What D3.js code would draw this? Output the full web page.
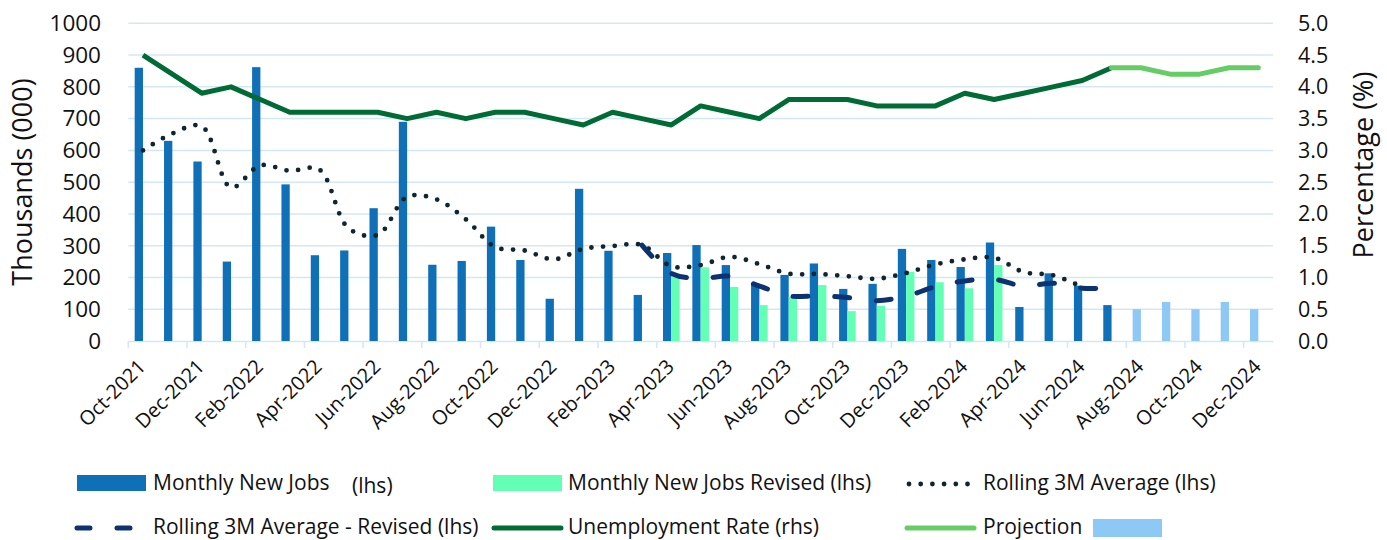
<!DOCTYPE html>
<html lang="en">
<head>
    <meta charset="UTF-8">
    <title>Monthly New Jobs and Unemployment Rate</title>
    <script src="https://d3js.org/d3.v7.min.js"></script>
    <style>
        body {
            margin: 0;
            background: white;
            font-family: "Open Sans", sans-serif;
        }

        .grid line {
            stroke: #d3e7f4;
            stroke-width: 1.5;
        }

        .tick-label {
            fill: #111;
        }

        .legend-text {
            font-size: 21px;
            fill: #111;
        }
    </style>
</head>
<body>
    <div id="chart"></div>
    <script>
        const months = [
            'Oct-2021', 'Nov-2021', 'Dec-2021', 'Jan-2022', 'Feb-2022', 'Mar-2022', 'Apr-2022', 'May-2022',
            'Jun-2022', 'Jul-2022', 'Aug-2022', 'Sep-2022', 'Oct-2022', 'Nov-2022', 'Dec-2022', 'Jan-2023',
            'Feb-2023', 'Mar-2023', 'Apr-2023', 'May-2023', 'Jun-2023', 'Jul-2023', 'Aug-2023', 'Sep-2023',
            'Oct-2023', 'Nov-2023', 'Dec-2023', 'Jan-2024', 'Feb-2024', 'Mar-2024', 'Apr-2024', 'May-2024',
            'Jun-2024', 'Jul-2024', 'Aug-2024', 'Sep-2024', 'Oct-2024', 'Nov-2024', 'Dec-2024'
        ];

        // Oct-2021 .. Jul-2024
        const newJobs = [860, 630, 565, 250, 862, 493, 270, 285, 418, 690, 240, 252, 360, 255, 133, 479,
            284, 145, 277, 302, 239, 181, 208, 244, 164, 180, 290, 255, 233, 310, 107, 213, 174, 113];

        // Apr-2023 .. Mar-2024
        const revisedMonths = ['Apr-2023', 'May-2023', 'Jun-2023', 'Jul-2023', 'Aug-2023', 'Sep-2023',
            'Oct-2023', 'Nov-2023', 'Dec-2023', 'Jan-2024', 'Feb-2024', 'Mar-2024'];
        const newJobsRevised = [202, 232, 170, 113, 139, 176, 94, 111, 218, 185, 166, 239];

        // Aug-2024 .. Dec-2024
        const projectionMonths = ['Aug-2024', 'Sep-2024', 'Oct-2024', 'Nov-2024', 'Dec-2024'];
        const projectionJobs = [100, 123, 100, 123, 100];

        // Oct-2021 .. Jun-2024
        const rolling3M = [600, 653, 676, 483, 553, 536, 540, 355, 334, 454, 446, 383, 296, 285, 257, 290,
            299, 302, 235, 239, 265, 242, 212, 211, 204, 196, 214, 241, 257, 262, 217, 207, 170];

        // Mar-2023 .. Jul-2024
        const revisedAvgMonths = ['Mar-2023', 'Apr-2023', 'May-2023', 'Jun-2023', 'Jul-2023', 'Aug-2023',
            'Sep-2023', 'Oct-2023', 'Nov-2023', 'Dec-2023', 'Jan-2024', 'Feb-2024', 'Mar-2024', 'Apr-2024',
            'May-2024', 'Jun-2024', 'Jul-2024'];
        const rolling3MRevised = [302, 213, 197, 204, 173, 142, 142, 137, 127, 141, 171, 189, 194, 173, 182, 166, 167];

        // Oct-2021 .. Jul-2024
        const unemployment = [4.5, 4.2, 3.9, 4.0, 3.8, 3.6, 3.6, 3.6, 3.6, 3.5, 3.6, 3.5, 3.6, 3.6, 3.5, 3.4,
            3.6, 3.5, 3.4, 3.7, 3.6, 3.5, 3.8, 3.8, 3.8, 3.7, 3.7, 3.7, 3.9, 3.8, 3.9, 4.0, 4.1, 4.3];

        // Jul-2024 .. Dec-2024
        const projectionRateMonths = ['Jul-2024', 'Aug-2024', 'Sep-2024', 'Oct-2024', 'Nov-2024', 'Dec-2024'];
        const projectionRate = [4.3, 4.3, 4.2, 4.2, 4.3, 4.3];

        const leftTicks = [0, 100, 200, 300, 400, 500, 600, 700, 800, 900, 1000];
        const rightTicks = [0, 0.5, 1, 1.5, 2, 2.5, 3, 3.5, 4, 4.5, 5];

        const width = 1387;
        const height = 540;
        const plot = { left: 128.3, right: 1273, top: 23.3, bottom: 341 };

        const colors = {
            jobs: '#0f70b7',
            revised: '#62ffb4',
            projBars: '#8ec8f4',
            rolling: '#10252f',
            rollingRev: '#0c3272',
            rate: '#006b35',
            projRate: '#66cc66'
        };

        const svg = d3.select('#chart')
            .append('svg')
            .attr('width', width)
            .attr('height', height);

        const x = d3.scaleBand()
            .domain(months)
            .range([plot.left, plot.right])
            .padding(0);

        const xSub = d3.scaleBand()
            .domain(['a', 'b'])
            .range([0, x.bandwidth()])
            .paddingInner(0)
            .paddingOuter(0.77);

        const y = d3.scaleLinear()
            .domain([0, 1000])
            .range([plot.bottom, plot.top]);

        const yR = d3.scaleLinear()
            .domain([0, 5])
            .range([plot.bottom, plot.top]);

        const cx = m => x(m) + x.bandwidth() / 2;

        // gridlines
        svg.append('g')
            .attr('class', 'grid')
            .selectAll('line')
            .data(leftTicks.slice(1))
            .join('line')
            .attr('x1', plot.left)
            .attr('x2', plot.right)
            .attr('y1', d => y(d))
            .attr('y2', d => y(d));

        // x axis line and ticks every two months
        const xAxis = svg.append('g')
            .attr('transform', `translate(0,${plot.bottom})`)
            .call(d3.axisBottom(x)
                .tickValues(months.filter((d, i) => i % 2 === 0))
                .tickSize(7)
                .tickSizeOuter(0)
                .tickFormat(''));
        xAxis.select('.domain').attr('stroke', '#d3e7f4').attr('stroke-width', 1.5);
        xAxis.selectAll('.tick line')
            .attr('stroke', '#d3e7f4')
            .attr('stroke-width', 1.5)
            .attr('transform', `translate(${-x.bandwidth() / 2},0)`);

        // x labels
        svg.append('g')
            .selectAll('text')
            .data(months.filter((d, i) => i % 2 === 0))
            .join('text')
            .attr('class', 'tick-label')
            .attr('font-size', 20)
            .attr('text-anchor', 'end')
            .attr('transform', d => `translate(${cx(d) - 1},${plot.bottom + 22}) rotate(-45)`)
            .attr('dy', '0.35em')
            .text(d => d);

        // left axis labels
        svg.append('g')
            .selectAll('text')
            .data(leftTicks)
            .join('text')
            .attr('class', 'tick-label')
            .attr('font-size', 22.5)
            .attr('text-anchor', 'end')
            .attr('x', 101)
            .attr('y', d => y(d))
            .attr('dy', '0.35em')
            .text(d => d);

        // right axis labels
        svg.append('g')
            .selectAll('text')
            .data(rightTicks)
            .join('text')
            .attr('class', 'tick-label')
            .attr('font-size', 21.5)
            .attr('text-anchor', 'start')
            .attr('x', 1298)
            .attr('y', d => yR(d))
            .attr('dy', '0.35em')
            .text(d => d.toFixed(1));

        // axis titles
        svg.append('text')
            .attr('class', 'tick-label')
            .attr('font-size', 27)
            .attr('text-anchor', 'middle')
            .attr('transform', 'translate(32,182) rotate(-90)')
            .text('Thousands (000)');

        svg.append('text')
            .attr('class', 'tick-label')
            .attr('font-size', 27)
            .attr('text-anchor', 'middle')
            .attr('transform', 'translate(1373,165) rotate(-90)')
            .text('Percentage (%)');

        // bars
        svg.append('g')
            .selectAll('rect')
            .data(newJobs)
            .join('rect')
            .attr('x', (d, i) => x(months[i]) + xSub('a'))
            .attr('y', d => y(d))
            .attr('width', xSub.bandwidth())
            .attr('height', d => y(0) - y(d))
            .attr('fill', colors.jobs);

        svg.append('g')
            .selectAll('rect')
            .data(newJobsRevised)
            .join('rect')
            .attr('x', (d, i) => x(revisedMonths[i]) + xSub('b'))
            .attr('y', d => y(d))
            .attr('width', xSub.bandwidth())
            .attr('height', d => y(0) - y(d))
            .attr('fill', colors.revised);

        svg.append('g')
            .selectAll('rect')
            .data(projectionJobs)
            .join('rect')
            .attr('x', (d, i) => x(projectionMonths[i]) + xSub('a'))
            .attr('y', d => y(d))
            .attr('width', xSub.bandwidth())
            .attr('height', d => y(0) - y(d))
            .attr('fill', colors.projBars);

        // lines
        const smooth = d3.line().curve(d3.curveCatmullRom.alpha(0.5));
        const straight = d3.line();

        svg.append('path')
            .attr('d', smooth(rolling3M.map((d, i) => [cx(months[i]), y(d)])))
            .attr('fill', 'none')
            .attr('stroke', colors.rolling)
            .attr('stroke-width', 4.8)
            .attr('stroke-linecap', 'round')
            .attr('stroke-dasharray', '0 11.7');

        svg.append('path')
            .attr('d', smooth(rolling3MRevised.map((d, i) => [cx(revisedAvgMonths[i]), y(d)])))
            .attr('fill', 'none')
            .attr('stroke', colors.rollingRev)
            .attr('stroke-width', 5)
            .attr('stroke-linecap', 'round')
            .attr('stroke-dasharray', '15 26.7');

        svg.append('path')
            .attr('d', straight(unemployment.map((d, i) => [cx(months[i]), yR(d)])))
            .attr('fill', 'none')
            .attr('stroke', colors.rate)
            .attr('stroke-width', 5)
            .attr('stroke-linejoin', 'round');

        svg.append('path')
            .attr('d', straight(projectionRate.map((d, i) => [cx(projectionRateMonths[i]), yR(d)])))
            .attr('fill', 'none')
            .attr('stroke', colors.projRate)
            .attr('stroke-width', 5)
            .attr('stroke-linecap', 'round')
            .attr('stroke-linejoin', 'round');

        // legend
        const legend = svg.append('g');

        legend.append('rect')
            .attr('x', 77).attr('y', 475).attr('width', 69).attr('height', 16)
            .attr('fill', colors.jobs);
        legend.append('text').attr('class', 'legend-text')
            .attr('x', 153).attr('y', 490).text('Monthly New Jobs');
        legend.append('text').attr('class', 'legend-text')
            .attr('x', 352).attr('y', 493).text('(lhs)');

        legend.append('rect')
            .attr('x', 493).attr('y', 475).attr('width', 69).attr('height', 16)
            .attr('fill', colors.revised);
        legend.append('text').attr('class', 'legend-text')
            .attr('x', 568).attr('y', 490).text('Monthly New Jobs Revised (lhs)');

        legend.append('line')
            .attr('x1', 909).attr('x2', 975).attr('y1', 484).attr('y2', 484)
            .attr('stroke', colors.rolling).attr('stroke-width', 4.8)
            .attr('stroke-linecap', 'round').attr('stroke-dasharray', '0 11.7');
        legend.append('text').attr('class', 'legend-text')
            .attr('x', 983).attr('y', 490).text('Rolling 3M Average (lhs)');

        legend.append('line')
            .attr('x1', 77).attr('x2', 145).attr('y1', 528).attr('y2', 528)
            .attr('stroke', colors.rollingRev).attr('stroke-width', 5)
            .attr('stroke-linecap', 'round').attr('stroke-dasharray', '13 27');
        legend.append('text').attr('class', 'legend-text')
            .attr('x', 153).attr('y', 534).text('Rolling 3M Average - Revised (lhs)');

        legend.append('line')
            .attr('x1', 494).attr('x2', 561).attr('y1', 528).attr('y2', 528)
            .attr('stroke', colors.rate).attr('stroke-width', 5)
            .attr('stroke-linecap', 'round');
        legend.append('text').attr('class', 'legend-text')
            .attr('x', 568).attr('y', 534).text('Unemployment Rate (rhs)');

        legend.append('line')
            .attr('x1', 907).attr('x2', 974).attr('y1', 528).attr('y2', 528)
            .attr('stroke', colors.projRate).attr('stroke-width', 5)
            .attr('stroke-linecap', 'round');
        legend.append('text').attr('class', 'legend-text')
            .attr('x', 983).attr('y', 534).text('Projection');

        legend.append('rect')
            .attr('x', 1093).attr('y', 519).attr('width', 69).attr('height', 18)
            .attr('fill', colors.projBars);
    </script>
</body>
</html>
